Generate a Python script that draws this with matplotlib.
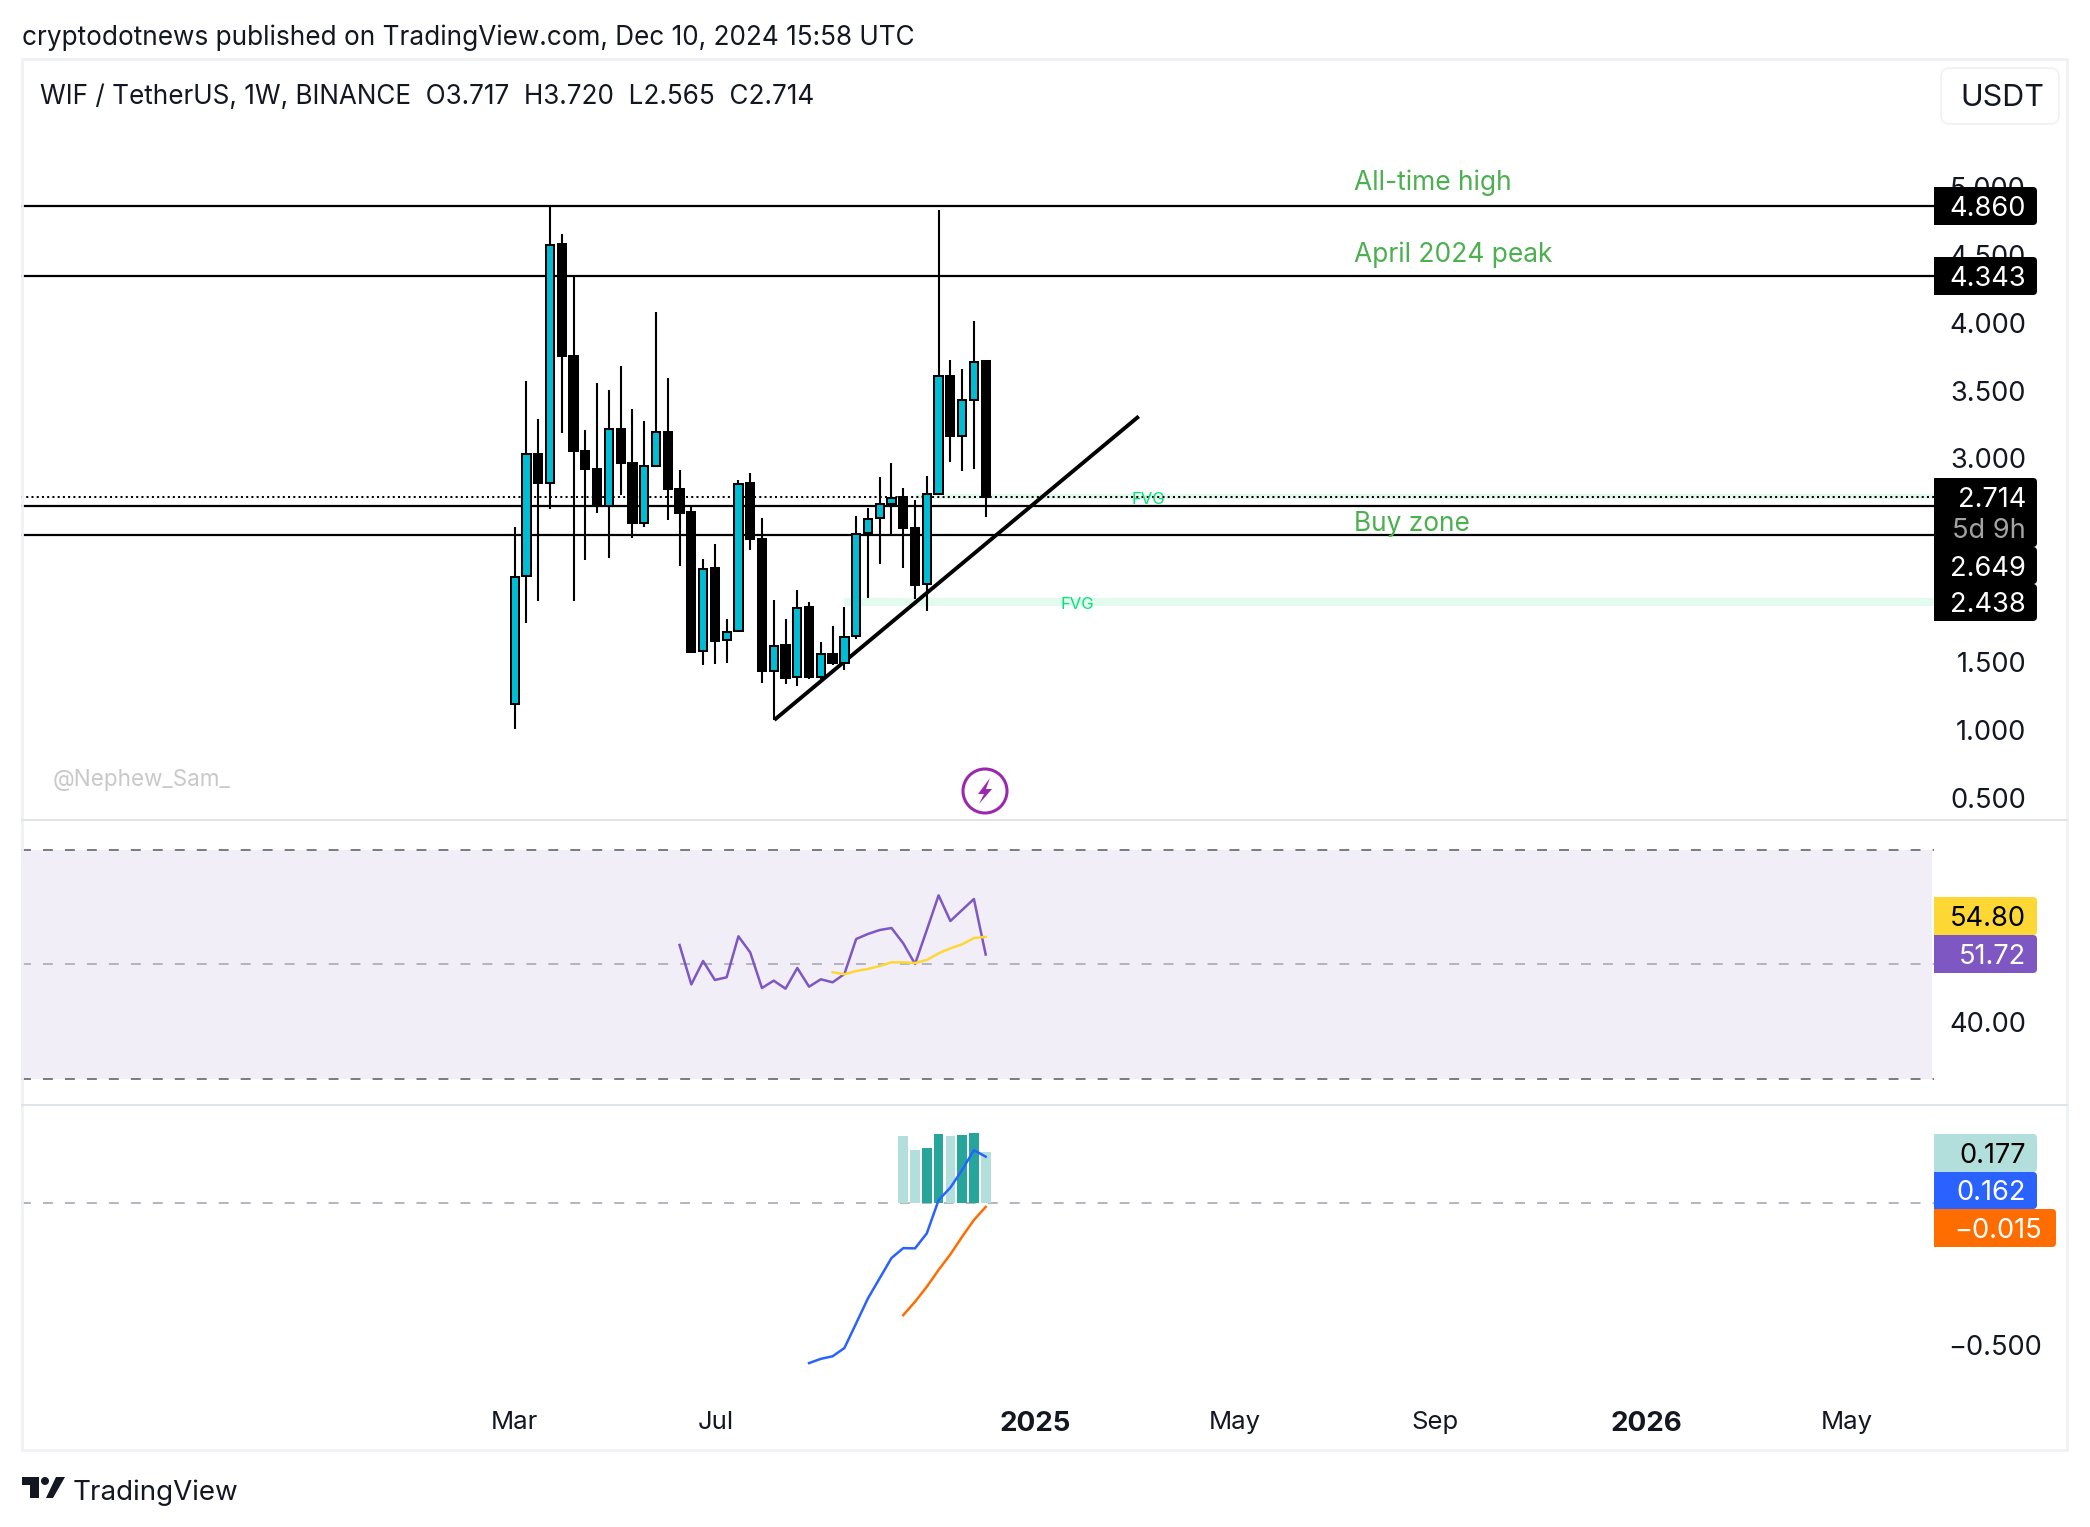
import matplotlib
matplotlib.use("Agg")
from matplotlib import pyplot as plt
from matplotlib.patches import Rectangle, FancyBboxPatch, Circle, Polygon
import numpy as np

plt.rcParams["font.family"] = ["Inter", "DejaVu Sans"]

# weekly candles
opens = [1.187, 2.132, 3.031, 2.820, 4.577, 3.757, 3.055, 2.923, 2.649, 3.219, 2.965, 2.525, 2.944, 3.195,
         2.775, 2.604, 1.578, 2.190, 1.660, 1.725, 2.818, 2.406, 1.430, 1.623, 1.388, 1.902, 1.393, 1.562,
         1.496, 1.689, 2.448, 2.562, 2.665, 2.715, 2.485, 2.074, 2.738, 3.609, 3.166, 3.432, 3.717]
closes = [2.129, 3.031, 2.818, 4.575, 3.754, 3.052, 2.920, 2.646, 3.216, 2.965, 2.522, 2.942, 3.192, 2.773,
          2.601, 1.575, 2.187, 1.657, 1.723, 2.815, 2.403, 1.435, 1.620, 1.385, 1.900, 1.390, 1.559, 1.493,
          1.686, 2.446, 2.556, 2.662, 2.709, 2.485, 2.071, 2.736, 3.606, 3.163, 3.430, 3.709, 2.714]
highs = [2.493, 3.567, 3.292, 4.862, 4.651, 4.345, 3.213, 3.559, 3.501, 3.678, 3.361, 3.279, 4.076, 3.591,
         2.918, 2.643, 2.261, 2.372, 1.818, 2.841, 2.894, 2.562, 1.958, 1.818, 2.031, 1.942, 1.646, 1.765,
         1.905, 2.577, 2.638, 2.865, 2.968, 2.783, 2.696, 2.873, 4.828, 3.722, 3.656, 4.010, 3.720]
lows = [1.003, 1.789, 1.952, 2.625, 3.187, 1.952, 2.248, 2.599, 2.264, 2.733, 2.417, 2.498, 2.942, 2.543,
        2.211, 1.575, 1.480, 1.488, 1.493, 1.725, 2.322, 1.346, 1.069, 1.340, 1.324, 1.377, 1.372, 1.480,
        1.443, 1.673, 1.968, 2.219, 2.440, 2.195, 1.965, 1.879, 2.736, 2.971, 2.905, 2.920, 2.565]

level_lines = [4.860, 4.343, 2.649, 2.438]
last_price = 2.714
trend_x = [22.05, 53.0]
trend_y = [1.073, 3.31]
fvg_start = [34, 28]
fvg_low = [2.70, 1.915]
fvg_high = [2.74, 1.974]

rsi_start = 14
rsi = [53.39, 46.5, 50.59, 47.28, 47.75, 54.9, 52.1, 45.88, 47.16, 45.76, 49.37, 46.11, 47.4, 46.87,
       48.32, 54.43, 55.31, 56.0, 56.35, 53.67, 50.07, 56.0, 62.05, 57.57, 59.5, 61.41, 51.72]
rsi_ma_start = 27
rsi_ma = [48.62, 48.27, 48.85, 49.2, 49.72, 50.36, 50.36, 50.24, 50.77, 51.93, 52.8, 53.5, 54.6, 54.8]

macd_start = 25
macd = [-0.565, -0.550, -0.541, -0.512, -0.425, -0.337, -0.266, -0.195, -0.160, -0.161, -0.108, 0.009,
        0.053, 0.115, 0.185, 0.162]
signal_start = 33
signal = [-0.396, -0.349, -0.296, -0.237, -0.182, -0.120, -0.061, -0.015]
hist = [0.235, 0.185, 0.192, 0.242, 0.235, 0.238, 0.245, 0.177]
hist_dark = [False, False, True, True, False, True, True, False]

# 2.000 and 2.500 sit under the price labels in the original
price_ticks = [0.5, 1.0, 1.5, 3.0, 3.5, 4.0, 4.5, 5.0]
time_ticks = [0, 17.1, 44.2, 61.2, 78.2, 96.1, 113.1]
time_labels = ["Mar", "Jul", "2025", "May", "Sep", "2026", "May"]

W, H = 2090, 1527
INK = "#131722"
GREEN = "#4caf50"
FVG = "#00e676"
LEFT = 21
XMIN, XMAX = -41.93, 120.54
SIZE = 19.6


def pane(top, bottom):
    a = fig.add_axes([LEFT / W, 1 - bottom / H, (1934 - LEFT) / W, (bottom - top) / H])
    a.set_xlim(XMIN, XMAX)
    a.patch.set_alpha(0)
    for s in a.spines.values():
        s.set_visible(False)
    a.yaxis.tick_right()
    return a


def right_ticks(a, ticks, labels, right_px):
    a.set_yticks(ticks)
    a.set_yticklabels(labels, fontsize=SIZE, color=INK, ha="right")
    a.tick_params(axis="y", length=0, pad=(right_px - 1934) * 0.72)
    a.set_xticks([])


fig = plt.figure(figsize=(W / 100, H / 100), dpi=100, facecolor="white")

# price pane
ax = pane(60, 820)
ax.set_ylim(0.3357, 5.936)
right_ticks(ax, price_ticks, ["%.3f" % t for t in price_ticks], 2026)
for i, lv in enumerate(level_lines):
    ax.axhline(lv, color="black", lw=1.6, zorder=2)
for s, lo, hi in zip(fvg_start, fvg_low, fvg_high):
    ax.fill_between([s, XMAX], lo, hi, color="#e3faef", lw=0, zorder=1)
ax.axhline(last_price, color="black", lw=1.45, ls=(0, (1, 1.6)), zorder=2)
ax.plot(trend_x, trend_y, color="black", lw=2.8, zorder=2, solid_capstyle="butt")

x = np.arange(len(opens))
o, c = np.array(opens), np.array(closes)
up = c > o
ax.vlines(x, lows, highs, color="black", lw=1.5, zorder=3)
ax.bar(x, np.abs(c - o), bottom=np.minimum(o, c), width=0.7,
       color=["#00bcd4" if u else "black" for u in up], edgecolor="black", linewidth=1.45, zorder=4)

# rsi pane
ax2 = pane(820, 1105)
ax2.set_ylim(25.46, 75.2)
right_ticks(ax2, [40], ["40.00"], 2026)
ax2.axhspan(30, 70, xmax=0.999, color="#f1eef8", lw=0, zorder=1)
ax2.axhline(70, color="#787b86", lw=1.4, ls=(0, (5.1, 6.2)), zorder=2)
ax2.axhline(30, color="#787b86", lw=1.4, ls=(0, (5.1, 6.2)), zorder=2)
ax2.axhline(50, color="#b2b5be", lw=1.4, ls=(0, (5.1, 6.2)), zorder=2)
ax2.plot(np.arange(len(rsi)) + rsi_start, rsi, color="#7e57c2", lw=1.8, zorder=3)
ax2.plot(np.arange(len(rsi_ma)) + rsi_ma_start, rsi_ma, color="#fdd835", lw=1.8, zorder=4)

# macd pane, its bottom edge is where the time labels start
ax3 = pane(1105, 1400)
ax3.set_ylim(-0.695, 0.344)
right_ticks(ax3, [-0.5], ["\u22120.500"], 2042)
ax3.axhline(0, color="#b2b5be", lw=1.4, ls=(0, (5.1, 6.2)), zorder=1)
ax3.bar(np.arange(len(hist)) + signal_start, hist, width=0.82,
        color=["#26a69a" if d else "#b2dfdb" for d in hist_dark], zorder=2)
ax3.plot(np.arange(len(macd)) + macd_start, macd, color="#2962ff", lw=1.8, zorder=3)
ax3.plot(np.arange(len(signal)) + signal_start, signal, color="#ff6d00", lw=1.8, zorder=3)
ax3.set_xticks(time_ticks)
ax3.set_xticklabels(time_labels, fontsize=18.5, color=INK)
ax3.tick_params(axis="x", length=0, pad=8)
for lab in ax3.get_xticklabels():
    if lab.get_text().startswith("20"):
        lab.set_fontweight("bold")
        lab.set_fontsize(20)

# pixel overlay for the frame, price labels and texts
ov = fig.add_axes([0, 0, 1, 1], zorder=10)
ov.set_xlim(0, W)
ov.set_ylim(H, 0)
ov.axis("off")
ov.add_patch(Rectangle((21.5, 59), 2067 - 21.5, 1450 - 59, fill=False, ec="#eff1f4", lw=2))
ov.plot([22, 2067], [820, 820], color="#e0e3eb", lw=1.4)
ov.plot([22, 2067], [1104.5, 1104.5], color="#e0e3eb", lw=1.4)


def price_box(top, bottom, color, text, text_color, right=2037, text_right=2026):
    ov.add_patch(FancyBboxPatch((1934, top), right - 1934, bottom - top, boxstyle="round,pad=0,rounding_size=4",
                                fc=color, ec="none"))
    ov.add_patch(Rectangle((1934, top), 10, bottom - top, fc=color, ec="none"))
    ov.text(text_right, (top + bottom) / 2, text, color=text_color, fontsize=SIZE, ha="right", va="center_baseline")


price_box(187, 225, "black", "4.860", "white")
price_box(257, 295, "black", "4.343", "white")
price_box(478, 547, "black", "2.714", "white")
ov.texts[-1].set_y(497)
ov.text(2026, 528, "5d 9h", color="#a3a3a3", fontsize=SIZE, ha="right", va="center_baseline")
price_box(547, 584, "black", "2.649", "white")
price_box(584, 621, "black", "2.438", "white")
price_box(897, 935, "#fdd835", "54.80", "black")
price_box(935, 973, "#7e57c2", "51.72", "white")
price_box(1134, 1172, "#b2dfdb", "0.177", "black")
price_box(1172, 1209, "#2962ff", "0.162", "white")
price_box(1209, 1247, "#ff6d00", "\u22120.015", "white", right=2056, text_right=2042)

ov.text(22, 34.5, "cryptodotnews published on TradingView.com, Dec 10, 2024 15:58 UTC", color=INK,
        fontsize=18.85, va="center_baseline")
ov.text(40.5, 94, "WIF / TetherUS, 1W, BINANCE  O3.717  H3.720  L2.565  C2.714", color=INK,
        fontsize=18.8, va="center_baseline")
ov.add_patch(FancyBboxPatch((1941, 68), 118, 56, boxstyle="round,pad=0,rounding_size=9", fc="white",
                            ec="#eff1f4", lw=1.2))
ov.text(2002.5, 95, "USDT", color=INK, fontsize=22, ha="center", va="center_baseline")

ov.text(1354, 180, "All-time high", color=GREEN, fontsize=19, va="center_baseline")
ov.text(1354, 252, "April 2024 peak", color=GREEN, fontsize=19, va="center_baseline")
ov.text(1354, 521, "Buy zone", color=GREEN, fontsize=18.9, va="center_baseline")
ov.text(1148, 498, "FVG", color=FVG, fontsize=12, ha="center", va="center_baseline")
ov.text(1077, 603, "FVG", color=FVG, fontsize=12, ha="center", va="center_baseline")
ov.text(53, 777.5, "@Nephew_Sam_", color="#c9c9c9", fontsize=16.2, va="center_baseline")

# bolt icon
ov.add_patch(Circle((985, 791), 22, fill=False, ec="#9c27b0", lw=2.2))
ov.add_patch(Polygon([(990, 778), (978, 794), (984, 794), (979, 804), (992, 789), (986, 789)], fc="#9c27b0", ec="none"))

# TradingView logo
ov.add_patch(Polygon([(22, 1477), (39, 1477), (39, 1498), (30, 1498), (30, 1485), (22, 1485)], fc=INK, ec="none"))
ov.add_patch(Circle((45, 1481), 4, fc=INK, ec="none"))
ov.add_patch(Polygon([(65, 1477), (53, 1498), (46, 1498), (56, 1477)], fc=INK, ec="none"))
ov.text(73, 1490, "TradingView", color=INK, fontsize=20, va="center_baseline")

fig.savefig("out.png", dpi=100)
